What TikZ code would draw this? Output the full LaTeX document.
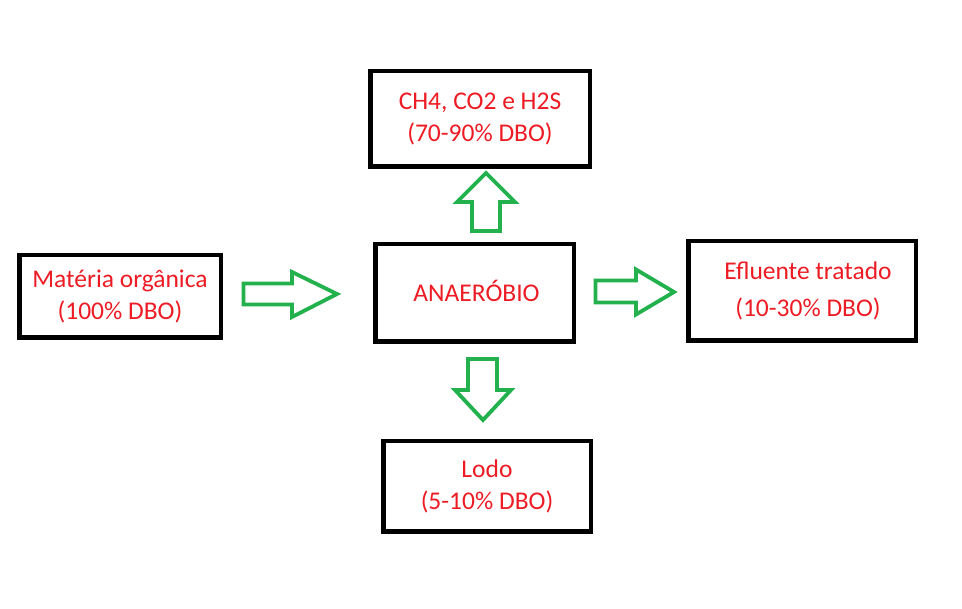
\documentclass[tikz,border=0pt]{standalone}
\usepackage{fontspec}
\setmainfont{Carlito}
\definecolor{txtred}{RGB}{237,28,36}
\definecolor{arrgreen}{RGB}{34,177,76}
\begin{document}
\begin{tikzpicture}[x=1pt,y=-1pt,
  boxnode/.style={draw=black,line width=4.5pt,rectangle,inner sep=0pt,align=center,
    text=txtred,font=\fontsize{25.5}{32}\selectfont},
  blockarrow/.style={draw=arrgreen,line width=3.8pt,line join=miter,fill=white}]
\useasboundingbox (0,0) rectangle (962,609);
\fill[white] (0,0) rectangle (962,609);

\node[boxnode,minimum width=219.5pt,minimum height=95.5pt] (gas) at (480,119) {CH4, CO2 e H2S\\(70-90\% DBO)};
\node[boxnode,minimum width=201.5pt,minimum height=82.5pt] (mat) at (120,296.5) {Matéria orgânica\\(100\% DBO)};
\node[boxnode,minimum width=198.5pt,minimum height=97.5pt] (ana) at (474.5,293) {\raisebox{4pt}{ANAERÓBIO}\hspace*{-4pt}};
\node[boxnode,minimum width=227.5pt,minimum height=99.5pt] (efl) at (802,291) {\hspace*{12pt}Efluente tratado\\[5pt]\hspace*{12pt}(10-30\% DBO)};
\node[boxnode,minimum width=207.5pt,minimum height=90.5pt] (lodo) at (487,486.5) {Lodo\\(5-10\% DBO)};

% block arrows
\draw[blockarrow] (243.5,283.5) -- (292,283.5) -- (292,272) -- (337,294) -- (292,317) -- (292,304.5) -- (243.5,304.5) -- cycle;
\draw[blockarrow] (595.5,280.5) -- (636,280.5) -- (636,269.5) -- (674,292) -- (636,314.5) -- (636,302.5) -- (595.5,302.5) -- cycle;
\draw[blockarrow] (486,173) -- (515,202) -- (500,202) -- (500,231) -- (472,231) -- (472,202) -- (457,202) -- cycle;
\draw[blockarrow] (468,359) -- (497,359) -- (497,390) -- (511,390) -- (483,420) -- (455,390) -- (468,390) -- cycle;
\end{tikzpicture}
\end{document}
